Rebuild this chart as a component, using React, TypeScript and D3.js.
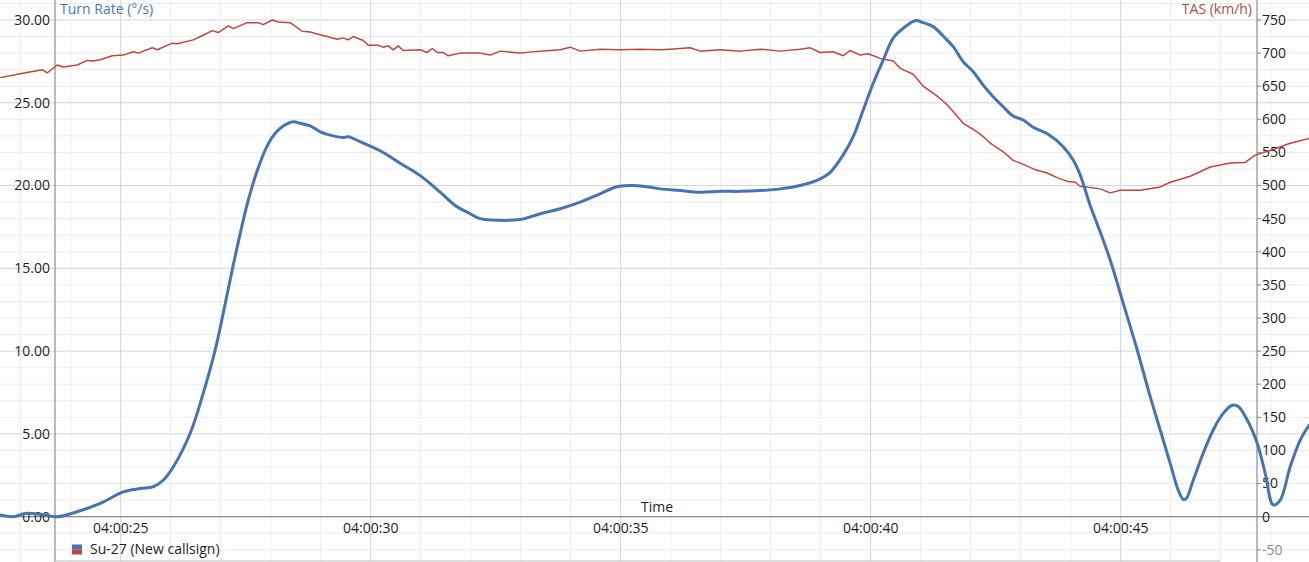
import React from "react";
import * as d3 from "d3";

// Time in seconds after 04:00:00
const turnTimes = [22.59, 22.85, 23.09, 23.39, 23.73, 24.19, 24.59, 25.05, 25.39, 25.65, 25.85, 26.05, 26.39, 26.65, 26.89, 27.05, 27.23, 27.39, 27.55, 27.73, 27.93, 28.09, 28.25, 28.45, 28.59, 28.79, 28.99, 29.25, 29.45, 29.55, 29.79, 30.19, 30.59, 30.99, 31.39, 31.69, 31.99, 32.19, 32.59, 32.99, 33.39, 33.79, 34.19, 34.59, 34.89, 35.19, 35.49, 35.79, 36.19, 36.59, 36.99, 37.39, 37.79, 38.19, 38.59, 38.99, 39.19, 39.45, 39.65, 39.85, 40.05, 40.25, 40.45, 40.65, 40.89, 41.05, 41.25, 41.45, 41.65, 41.85, 42.05, 42.25, 42.45, 42.65, 42.85, 43.05, 43.25, 43.55, 43.85, 44.05, 44.19, 44.39, 44.59, 44.79, 45.05, 45.33, 45.59, 45.79, 45.99, 46.15, 46.25, 46.31, 46.45, 46.65, 46.85, 47.05, 47.23, 47.35, 47.53, 47.73, 47.89, 48.05, 48.19, 48.39, 48.59, 48.77];
const turnRate = [0.1, 0.0, 0.2, 0.15, 0.0, 0.36, 0.8, 1.5, 1.7, 1.81, 2.2, 3.0, 5.04, 7.45, 10.07, 12.28, 14.9, 17.1, 19.1, 20.9, 22.4, 23.16, 23.6, 23.86, 23.76, 23.6, 23.25, 23.0, 22.9, 22.95, 22.65, 22.1, 21.35, 20.6, 19.6, 18.8, 18.3, 18.0, 17.9, 17.95, 18.3, 18.6, 19.0, 19.5, 19.9, 20.0, 19.95, 19.8, 19.7, 19.6, 19.65, 19.65, 19.7, 19.8, 20.0, 20.4, 20.8, 21.85, 22.95, 24.56, 26.18, 27.58, 28.9, 29.5, 29.96, 29.84, 29.6, 29.03, 28.39, 27.48, 26.88, 26.07, 25.37, 24.76, 24.2, 23.96, 23.52, 23.1, 22.35, 21.54, 20.64, 18.8, 17.2, 15.5, 12.9, 10.07, 7.25, 5.24, 3.22, 1.61, 1.05, 1.09, 2.2, 3.83, 5.24, 6.24, 6.73, 6.65, 5.84, 4.43, 2.62, 0.71, 1.0, 3.02, 4.63, 5.54];

const tasTimes = [22.59, 22.99, 23.43, 23.53, 23.73, 23.85, 24.13, 24.33, 24.45, 24.59, 24.83, 25.05, 25.25, 25.35, 25.63, 25.73, 26.03, 26.13, 26.45, 26.65, 26.83, 26.95, 27.15, 27.25, 27.53, 27.75, 27.85, 28.03, 28.15, 28.39, 28.63, 28.79, 28.93, 29.13, 29.33, 29.45, 29.55, 29.65, 29.85, 29.95, 30.15, 30.25, 30.35, 30.45, 30.55, 30.65, 30.99, 31.13, 31.23, 31.33, 31.45, 31.55, 31.79, 32.19, 32.39, 32.59, 32.99, 33.39, 33.79, 33.99, 34.19, 34.59, 34.99, 35.39, 35.79, 35.99, 36.39, 36.59, 36.99, 37.39, 37.79, 38.19, 38.59, 38.79, 38.99, 39.25, 39.45, 39.59, 39.79, 39.95, 40.19, 40.45, 40.59, 40.85, 41.05, 41.33, 41.53, 41.85, 42.13, 42.25, 42.39, 42.65, 42.85, 43.05, 43.29, 43.53, 43.73, 43.95, 44.09, 44.19, 44.59, 44.79, 44.99, 45.39, 45.79, 45.99, 46.39, 46.79, 47.19, 47.49, 47.69, 47.99, 48.39, 48.77];
const tas = [663, 669, 675, 670, 682, 679, 682, 689, 688, 690, 696, 697, 702, 700, 708, 705, 715, 714, 720, 727, 734, 731, 741, 737, 746, 746, 743, 750, 747, 746, 733, 732, 729, 725, 721, 723, 720, 725, 719, 712, 712, 709, 711, 705, 711, 704, 705, 701, 707, 701, 701, 696, 700, 700, 697, 703, 700, 703, 705, 709, 703, 706, 705, 706, 705, 706, 708, 703, 705, 703, 706, 703, 706, 708, 701, 702, 696, 704, 697, 699, 692, 688, 677, 668, 650, 635, 622, 594, 581, 574, 564, 551, 538, 532, 524, 519, 512, 506, 505, 499, 495, 489, 493, 493, 498, 505, 514, 528, 534, 535, 546, 553, 564, 571];

const leftTicks = [0, 5, 10, 15, 20, 25, 30];
const rightTicks = [-50, 0, 50, 100, 150, 200, 250, 300, 350, 400, 450, 500, 550, 600, 650, 700, 750];
const timeTicks = [25, 30, 35, 40, 45];

const W = 1309;
const H = 562;
const FONT = "'Open Sans', 'Noto Sans', sans-serif";

export default function App() {
  const x = d3.scaleLinear().domain([22.586, 22.586 + W / 50]).range([0, W]);
  const yL = d3.scaleLinear().domain([0, 30]).range([516.7, 20]);
  const yR = d3.scaleLinear().domain([0, 750]).range([516.7, 20]);
  const axL = x(23.686);
  const axR = x(47.726);
  const y0 = yL(0);

  const minorY = d3.range(-3, 32, 1);
  const minorX = d3.range(23, 49, 1);

  const blueLine = d3
    .line<number>()
    .x((_, i) => x(turnTimes[i]))
    .y((d) => yL(d))
    .curve(d3.curveCatmullRom.alpha(0.5));
  const redLine = d3
    .line<number>()
    .x((_, i) => x(tasTimes[i]))
    .y((d) => yR(d));

  const fmt = (s: number) => `04:00:${String(s).padStart(2, "0")}`;

  return (
    <svg
      width={W}
      height={H}
      style={{ position: "absolute", left: 0, top: 0, background: "#fff" }}
      fontFamily={FONT}
    >
      {minorY.map((v) => (
        <line key={"hy" + v} x1={0} x2={W} y1={yL(v)} y2={yL(v)} stroke={v % 5 === 0 ? "#d4d4d4" : "#ececec"} strokeWidth={1} />
      ))}
      {minorX.map((v) => (
        <line key={"vx" + v} x1={x(v)} x2={x(v)} y1={0} y2={H} stroke={v % 5 === 0 ? "#d4d4d4" : "#ececec"} strokeWidth={1} />
      ))}

      <line x1={0} x2={W} y1={y0} y2={y0} stroke="#8c8c8c" strokeWidth={1.2} />
      <line x1={axL} x2={axL} y1={0} y2={H} stroke="#8c8c8c" strokeWidth={1.2} />
      <line x1={axR} x2={axR} y1={0} y2={H} stroke="#8c8c8c" strokeWidth={1.2} />
      <line x1={axL} x2={1220} y1={561} y2={561} stroke="#d0d0d0" strokeWidth={1.5} />

      {leftTicks.map((v) => (
        <text key={"lt" + v} x={axL - 5} y={yL(v)} dy="0.35em" textAnchor="end" fontSize={14} fill="#1e1e1e">
          {v.toFixed(2)}
        </text>
      ))}
      {rightTicks.map((v) => (
        <g key={"rt" + v}>
          <line x1={axR} x2={axR + 4} y1={yR(v)} y2={yR(v)} stroke="#8c8c8c" />
          <text x={axR + 5} y={yR(v)} dy="0.35em" textAnchor="start" fontSize={14} fill={v < 0 ? "#8a8a8a" : "#1e1e1e"}>
            {v}
          </text>
        </g>
      ))}
      {timeTicks.map((v) => (
        <text key={"tt" + v} x={x(v)} y={533} textAnchor="middle" fontSize={14} fill="#1e1e1e">
          {fmt(v)}
        </text>
      ))}
      <text x={657} y={512} textAnchor="middle" fontSize={14} fill="#1e1e1e">Time</text>

      <text x={60} y={14} fontSize={14} fill="#4a77b4">Turn Rate (°/s)</text>
      <text x={1252} y={14} textAnchor="end" fontSize={14} fill="#b54a4a">TAS (km/h)</text>

      <path d={redLine(tas) || ""} fill="none" stroke="#b94744" strokeWidth={1.5} strokeLinejoin="round" />
      <path d={blueLine(turnRate) || ""} fill="none" stroke="#4674b0" strokeWidth={3} strokeLinejoin="round" strokeLinecap="round" />

      <rect x={72} y={544.5} width={10} height={5} fill="#4674b0" />
      <rect x={72} y={549.5} width={10} height={5} fill="#b94744" />
      <text x={90} y={554} fontSize={14} fill="#1e1e1e">Su-27 (New callsign)</text>
    </svg>
  );
}
